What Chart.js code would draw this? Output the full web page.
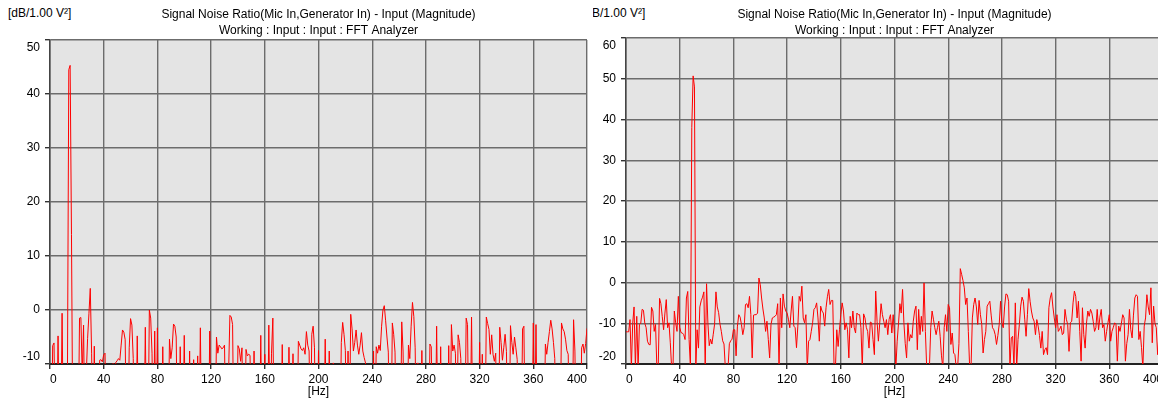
<!DOCTYPE html>
<html>
<head>
<meta charset="utf-8">
<script src="https://cdn.jsdelivr.net/npm/chart.js@4.4.1/dist/chart.umd.min.js"></script>
<style>
  html, body { margin: 0; padding: 0; background: #fff; overflow: hidden; }
  body { width: 1158px; height: 398px; position: relative; font-family: 'Liberation Sans', Arial, sans-serif; }
  .pane { position: absolute; top: 0; width: 593px; height: 398px; }
  #leftPane { left: 0; z-index: 2; background: #fff; }
  #rightPane { left: 576px; z-index: 1; }
  .unit { position: absolute; left: 8px; top: 6px; font-size: 12px; color: #000; white-space: nowrap; }
  #rightPane .unit { left: 6px; }
  canvas { position: absolute; left: 0; top: 0; }
</style>
</head>
<body>
<div class="pane" id="leftPane">
  <div class="unit">[dB/1.00 V²]</div>
  <canvas id="leftChart" width="593" height="398"></canvas>
</div>
<div class="pane" id="rightPane">
  <div class="unit">[dB/1.00 V²]</div>
  <canvas id="rightChart" width="593" height="398"></canvas>
</div>
<script>
// FFT bins are 1 Hz apart, starting at 0 Hz
const binStepHz = 1;

const titleText = 'Signal Noise Ratio(Mic In,Generator In) - Input (Magnitude)';
const subtitleText = 'Working : Input : Input : FFT Analyzer';
const xAxisTitle = '[Hz]';

const freqTicks = [0, 40, 80, 120, 160, 200, 240, 280, 320, 360, 400];
const leftLevelTicks = [-10, 0, 10, 20, 30, 40, 50];
const rightLevelTicks = [-20, -10, 0, 10, 20, 30, 40, 50, 60];

// left panel, dB per bin (values under -10 fall below the axis)
const leftLevels = [
  -25, -25, -6.6, -6.1, -25, -25, -4.8, -25, -25, -0.6,
  -25, -25, -25, -12, 44.5, 45.3, 14, -25, -25, -25,
  -25, -25, -1.5, -1.4, -12, -2.8, -25, -12, -5.3, -0.7,
  4, -8, -25, -6.7, -25, -25, -25, -9.3, -9.2, -9.6,
  -8.3, -8, -25, -25, -25, -25, -25, -9.9, -25, -9.7,
  -9.4, -9, -9.3, -6.5, -3.7, -4.1, -5.5, -25, -25, -7,
  -1.6, -2.8, -9, -25, -25, -4.8, -25, -25, -25, -25,
  -25, -3.2, -25, -25, 0, -1.5, -8, -25, -3.9, -25,
  -3.3, -25, -25, -25, -6.8, -25, -25, -25, -25, -5.4,
  -9, -7, -2.6, -3, -5, -25, -25, -6.8, -25, -25,
  -4.7, -25, -25, -25, -7.6, -25, -25, -9.2, -25, -25,
  -8.5, -25, -3.3, -25, -25, -25, -25, -25, -25, -3.9,
  -25, -25, -25, -25, -5, -8, -6.5, -6.8, -7.2, -7,
  -6.5, -25, -25, -12, -1, -1.3, -2.7, -25, -25, -25,
  -6.6, -7.2, -9.5, -7, -25, -25, -7.3, -8.5, -8.2, -8.4,
  -25, -25, -7.6, -25, -25, -25, -25, -4.7, -25, -25,
  -8.2, -25, -25, -2.8, -25, -8, -1.5, -25, -25, -25,
  -25, -25, -25, -6.4, -25, -25, -25, -25, -6.9, -25,
  -25, -8.1, -25, -25, -25, -5.8, -6.5, -7.2, -7.5, -7,
  -8.2, -4, -6.5, -7.6, -25, -4.5, -3, -7, -25, -25,
  -7.5, -25, -25, -25, -25, -5.4, -25, -25, -7.6, -25,
  -25, -9.8, -25, -25, -25, -25, -25, -6, -2.3, -4.5,
  -7.5, -25, -7.6, -25, -0.8, -3.5, -7.6, -6, -3.7, -6.5,
  -8.2, -6.5, -4.2, -7.6, -8.8, -9.8, -25, -25, -25, -25,
  -25, -7.6, -25, -6.8, -8, -6.5, -7.5, -3, 0, 0.8,
  -2, -5, -7.8, -25, -25, -2.4, -4.5, -7.8, -25, -25,
  -25, -25, -2.2, -7.6, -25, -25, -25, -6.5, -9, -3,
  1.4, -1.2, -7, -25, -9.8, -25, -25, -7.5, -25, -25,
  -25, -25, -25, -6.3, -6.8, -25, -25, -25, -3, -25,
  -25, -6.8, -25, -25, -25, -25, -25, -6.6, -25, -2.7,
  -7.6, -6.5, -8, -25, -4.6, -6, -9, -25, -25, -25,
  -1.5, -2.7, -25, -25, -1.3, -25, -25, -25, -25, -25,
  -6, -25, -8.2, -25, -25, -1.3, -2.5, -3.6, -8.2, -4.6,
  -8.2, -9.5, -8, -25, -25, -3.2, -6, -9.3, -7, -4.5,
  -7.7, -25, -25, -2.9, -6, -8.2, -5, -7, -9.2, -25,
  -25, -25, -3.5, -3, -25, -25, -25, -25, -25, -25,
  -2.4, -25, -2.7, -25, -25, -25, -25, -25, -25, -6.3,
  -8.2, -6, -4, -1.9, -3.5, -6, -9, -25, -25, -25,
  -25, -2.4, -3.5, -4, -5.4, -7.5, -8.2, -25, -25, -25,
  -1.8, -7.6, -25, -25, -25, -25, -7, -6.3, -8, -6.2,
  -3.4
];

// right panel, dB per bin (values under -20 fall below the axis)
const rightLevels = [
  -12.1, -12.1, -12.1, -9.1, -21, -10, -6, -21, -8.3, -21,
  -10.3, -10, -6.6, -6.8, -10, -11.1, -14.4, -15.2, -15.3, -6.1,
  -7, -12, -10.3, -21, -21, -3.9, -5.2, -8.3, -11.6, -7.5,
  -4.2, -11.1, -9.9, -14.8, -21, -21, -7, -9.9, -12, -3.4,
  -11, -12.3, -12.4, -12.8, -14, -3.8, -2.2, -14, -21, 38,
  50.7, 48, -21, -11.6, -16.1, -6, -4.5, -3.6, -2.3, -21,
  -0.3, -10, -15.5, -13.9, -15.1, -12.7, -10.2, -2.3, -6, -7.4,
  -10.2, -12, -14.3, -15.1, -21, -21, -21, -15, -14.3, -13.9,
  -11.6, -11.6, -18, -10.7, -7.9, -8.5, -10.3, -12.8, -11.1, -5.4,
  -5.2, -6.2, -3.4, -7.9, -18.5, -8, -7.9, -7.9, -7.5, 1.1,
  -0.5, -3.8, -6.5, -8.7, -12, -9.5, -14, -18.5, -10.3, -8.7,
  -8.5, -8.3, -7.9, -5.2, -21, -3.8, -11.1, -2.8, -5.8, -7,
  -7.5, -9, -11.1, -7, -3.4, -10.7, -11.1, -16, -10.7, -3.4,
  -4.6, -0.9, -8.7, -9.9, -7.9, -21, -14.4, -14, -12, -9.9,
  -6.6, -6.2, -5, -8.7, -14.4, -5.8, -7, -7.5, -10.7, -6.2,
  -3.5, -1.7, -5.4, -4.4, -4.4, -21, -21, -11.6, -15.7, -11.6,
  -7.9, -5, -7, -11.6, -9.9, -11.6, -18.5, -8.3, -11.1, -7,
  -11.1, -12.4, -7.5, -7.9, -7.9, -11.1, -21, -7.7, -8.7, -11,
  -12, -16.1, -9.7, -9.9, -14, -17.7, -2.1, -9.5, -14.4, -10,
  -5.2, -7.9, -9.5, -11.1, -9.1, -12.8, -9, -7.9, -12.4, -7.9,
  -12.8, -21, -14.4, -10, -5.2, -7.5, -1.7, -9.9, -15, -18.5,
  -9.9, -14.4, -12.8, -13.6, -9.5, -7, -5.8, -16.5, -6.6, -12.8,
  -8.3, -12, -0.1, -12, -21, -21, -21, -11.1, -7, -9,
  -11.1, -12.8, -11.1, -9.5, -13.2, -18, -21, -11.1, -7.9, -12,
  -5.4, -6.2, -15.2, -12.4, -17.3, -17.7, -21, -21, -15, 3.4,
  2, 0.5, -1.3, -5.4, -3.8, -12, -21, -21, -8.7, -5.4,
  -3.8, -6, -10.3, -4.4, -7.9, -10.3, -17.3, -14, -12, -5.8,
  -5.2, -4.6, -8, -11.1, -11.6, -12.8, -15.2, -13, -10.3, -4.6,
  -9.9, -11.1, -6, -2.8, -3, -4.6, -21, -13.6, -13.2, -21,
  -5, -21, -14, -10.3, -5.8, -3.6, -4.6, -9, -13.2, -7.9,
  -1.5, -4.6, -7, -8.7, -9.5, -12.8, -9.1, -10.7, -13, -16.1,
  -12, -17.7, -16.5, -16, -17.7, -6.2, -3.8, -2.5, -6, -8.7,
  -11.1, -7.9, -12, -11.5, -10.7, -12.8, -12.4, -6.6, -9, -10.3,
  -16.9, -9.9, -9.5, -5, -2.1, -3.4, -8.7, -4.6, -12, -19.3,
  -6.2, -12.8, -16.1, -10, -7, -8.3, -6.6, -7.5, -9.5, -12,
  -11.1, -6.6, -11.6, -8.5, -6.6, -11.1, -10.3, -14.4, -12, -9.9,
  -7.9, -14.4, -12, -11, -9.9, -10.3, -19.3, -10.7, -12, -10,
  -7.9, -8.7, -19.3, -15, -12.8, -6.6, -11.6, -13.6, -8, -3.8,
  -3, -3.4, -14, -12, -16, -21, -10.7, -8.7, -3, -6,
  -7.9, -1.3, -14.8, -5.8, -10, -11.1, -17.7, -12.8, -6, -9,
  -4.5
];

const fontFamily = "'Liberation Sans', Arial, sans-serif";

// grey plot background like the analyzer screen
const plotBackground = {
  id: 'plotBackground',
  beforeDraw(chart) {
    const { ctx, chartArea } = chart;
    ctx.save();
    ctx.fillStyle = '#e4e4e4';
    ctx.fillRect(chartArea.left, chartArea.top, chartArea.right - chartArea.left, chartArea.bottom - chartArea.top);
    ctx.restore();
  }
};

function drawSpectrum(canvasId, levels, levelTicks, subtitleGap) {
  const points = levels.map((v, i) => ({ x: i * binStepHz, y: v }));
  const yMin = levelTicks[0];
  const yMax = levelTicks[levelTicks.length - 1];

  return new Chart(document.getElementById(canvasId), {
    type: 'line',
    data: {
      datasets: [{
        data: points,
        borderColor: '#ff0000',
        borderWidth: 1,
        pointRadius: 0,
        tension: 0,
        fill: false
      }]
    },
    options: {
      responsive: false,
      animation: false,
      devicePixelRatio: 1,
      layout: { padding: { left: 0, right: 6, top: 0, bottom: 0 } },
      plugins: {
        legend: { display: false },
        tooltip: { enabled: false },
        title: {
          display: true,
          text: titleText,
          fullSize: false,
          color: '#000',
          font: { family: fontFamily, size: 12, weight: 'normal' },
          padding: { top: 7, bottom: 2 }
        },
        subtitle: {
          display: true,
          text: subtitleText,
          fullSize: false,
          color: '#000',
          font: { family: fontFamily, size: 12, weight: 'normal' },
          padding: { top: 0, bottom: subtitleGap }
        }
      },
      scales: {
        x: {
          type: 'linear',
          min: 0,
          max: 400,
          afterBuildTicks: s => { s.ticks = freqTicks.map(v => ({ value: v })); },
          afterFit: s => { s.height = 34; s.paddingLeft = 0; s.paddingRight = 0; },
          ticks: {
            align: 'inner',
            color: '#000',
            padding: 5,
            maxRotation: 0,
            font: { family: fontFamily, size: 12, lineHeight: 1 }
          },
          grid: { color: '#6c6c6c', lineWidth: 1.4, tickLength: 5, tickColor: '#333' },
          border: { color: '#222', width: 2 },
          title: {
            display: true,
            text: xAxisTitle,
            color: '#000',
            font: { family: fontFamily, size: 12, lineHeight: 1 },
            padding: { top: 0, bottom: 0 }
          }
        },
        y: {
          type: 'linear',
          min: yMin,
          max: yMax,
          afterBuildTicks: s => { s.ticks = levelTicks.map(v => ({ value: v })); },
          afterFit: s => { s.width = 50; s.paddingTop = 0; s.paddingBottom = 0; },
          ticks: {
            color: '#000',
            padding: 5,
            font: { family: fontFamily, size: 12 },
            // end labels sit inside the plot range, like the analyzer does
            callback: v => v === yMax ? ['', String(v)] : v === yMin ? [String(v), ''] : String(v)
          },
          grid: { color: '#6c6c6c', lineWidth: 1.4, tickLength: 5, tickColor: '#333' },
          border: { color: '#444', width: 1.5 }
        }
      }
    },
    plugins: [plotBackground]
  });
}

drawSpectrum('leftChart', leftLevels, leftLevelTicks, 2.2);
drawSpectrum('rightChart', rightLevels, rightLevelTicks, 0.2);
</script>
</body>
</html>
